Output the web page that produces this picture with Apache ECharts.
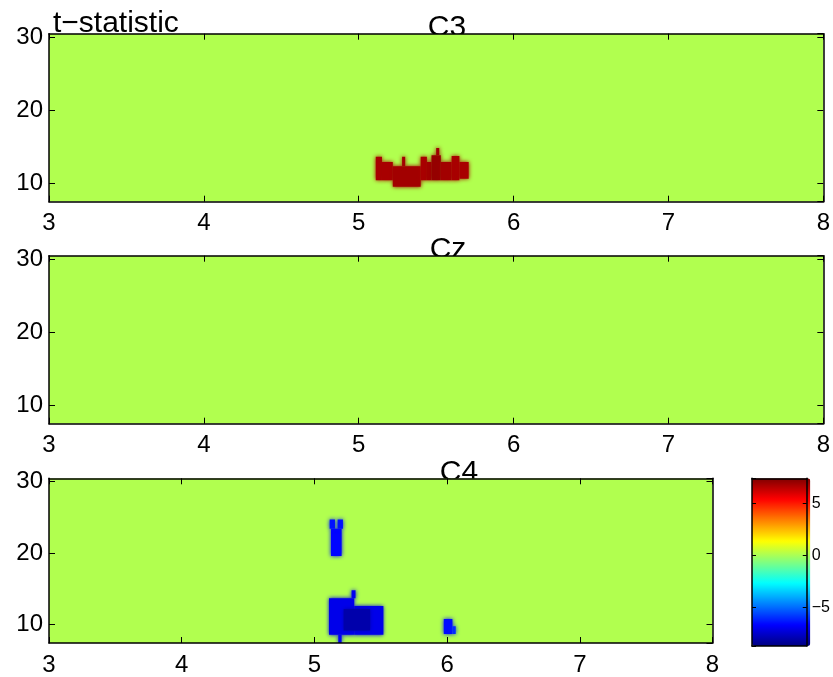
<!DOCTYPE html>
<html>
<head>
<meta charset="utf-8">
<script src="https://cdn.jsdelivr.net/npm/echarts@6/dist/echarts.min.js"></script>
<style>
html, body { margin: 0; padding: 0; background: #fff; }
#chart { width: 833px; height: 677px; }
</style>
</head>
<body>
<div id="chart"></div>
<script>
var FONT = 'Liberation Sans, Arial, Helvetica, sans-serif';

// axes ranges
var timeRange = [3, 8];
var freqRange = [7.45, 30.45];
var tRange = [-8.68, 7.44];
var baseT = 0.15;            // non-significant t value (the green)
var channels = ['C3', 'Cz', 'C4'];

// significant clusters, one rect per cell run: [tStart, tEnd, fLow, fHigh, t]
var c3Cells = [
    [5.11, 5.15, 10.4, 13.6, 6.8],
    [5.15, 5.22, 10.4, 12.9, 6.8],
    [5.22, 5.40, 9.5, 12.3, 6.9],
    [5.28, 5.30, 12.3, 13.6, 6.9],
    [5.40, 5.44, 10.4, 13.6, 6.8],
    [5.44, 5.47, 10.4, 12.9, 6.9],
    [5.47, 5.53, 10.4, 13.8, 7.1],
    [5.50, 5.52, 13.8, 14.8, 7.0],
    [5.53, 5.60, 10.4, 12.9, 6.9],
    [5.60, 5.65, 10.4, 13.7, 6.8],
    [5.65, 5.71, 10.6, 12.9, 6.8]
];
var czCells = [];
var c4Cells = [
    [5.125, 5.205, 19.6, 23.4, -6.6],
    [5.115, 5.155, 23.4, 24.7, -6.4],
    [5.175, 5.215, 23.4, 24.7, -6.4],
    [5.11, 5.30, 8.6, 13.7, -7.0],
    [5.28, 5.31, 13.7, 14.8, -6.9],
    [5.30, 5.52, 8.6, 12.6, -7.0],
    [5.18, 5.205, 7.45, 8.6, -6.8],
    [5.22, 5.42, 9.2, 12.2, -8.0],
    [5.975, 6.04, 8.7, 10.8, -6.5],
    [6.04, 6.065, 8.7, 9.8, -6.0]
];

var jet = ['#000080', '#0000ff', '#0080ff', '#00ffff', '#80ff80',
           '#ffff00', '#ff8000', '#ff0000', '#800000'];

var panelCells = [c3Cells, czCells, c4Cells];
var grids = [
    { left: 49, top: 33.7, width: 776, height: 168 },
    { left: 49, top: 255.7, width: 776, height: 168 },
    { left: 49, top: 478.3, width: 663.5, height: 168 },
    { left: 752, top: 478.3, width: 58.3, height: 167.7 }
];

function minusFmt(v) {
    return v < 0 ? '\u2212' + (-v) : String(v);
}

function frameAxis(gi, pos, opts) {
    var isX = pos === 'top' || pos === 'bottom';
    var showLabel = pos === 'bottom' || pos === 'left';
    return Object.assign({
        gridIndex: gi,
        type: 'value',
        position: pos,
        z: 5,
        axisLine: { show: true, onZero: false, lineStyle: { color: '#000', width: 1.5 } },
        axisTick: { show: true, inside: true, length: 6, lineStyle: { color: '#000', width: 1 } },
        axisLabel: {
            show: showLabel, color: '#000', fontSize: 24, fontFamily: FONT,
            margin: isX ? 10 : 6,
            showMinLabel: isX, showMaxLabel: isX,
            formatter: function (v) { return isX || v % 10 === 0 ? v : ''; }
        },
        splitLine: { show: false }
    }, opts);
}

var xAxes = [], yAxes = [];
for (var i = 0; i < 3; i++) {
    xAxes.push(frameAxis(i, 'bottom', { min: timeRange[0], max: timeRange[1], interval: 1 }));
    xAxes.push(frameAxis(i, 'top', { min: timeRange[0], max: timeRange[1], interval: 1 }));
    yAxes.push(frameAxis(i, 'left', { min: freqRange[0], max: freqRange[1], splitNumber: 3 }));
    yAxes.push(frameAxis(i, 'right', { min: freqRange[0], max: freqRange[1], splitNumber: 3 }));
}
// colorbar frame
xAxes.push(frameAxis(3, 'bottom', { min: 0, max: 1, axisTick: { show: false }, axisLabel: { show: false } }));
xAxes.push(frameAxis(3, 'top', { min: 0, max: 1, axisTick: { show: false }, axisLabel: { show: false } }));
yAxes.push(frameAxis(3, 'left', { min: tRange[0], max: tRange[1], splitNumber: 3,
    axisTick: { show: true, inside: true, length: 4, lineStyle: { color: '#000' } }, axisLabel: { show: false } }));
yAxes.push(frameAxis(3, 'right', { min: tRange[0], max: tRange[1], splitNumber: 3,
    axisTick: { show: true, inside: true, length: 4, lineStyle: { color: '#000' } },
    axisLabel: { show: true, color: '#000', fontSize: 16, fontFamily: FONT, margin: 5,
        showMinLabel: false, showMaxLabel: false,
        formatter: function (v) { return v % 5 === 0 ? minusFmt(v) : ''; } } }));

function renderCell(params, api) {
    var p0 = api.coord([api.value(0), api.value(3)]);
    var p1 = api.coord([api.value(1), api.value(2)]);
    var color = api.visual('color');
    var soft = params.dataIndex > 0;   // interpolated shading look on clusters
    return {
        type: 'rect',
        shape: { x: p0[0], y: p0[1], width: p1[0] - p0[0], height: p1[1] - p0[1] },
        style: {
            fill: color,
            shadowBlur: soft ? 4 : 0,
            shadowColor: soft ? color : 'transparent'
        }
    };
}

var series = panelCells.map(function (cells, i) {
    var data = [[timeRange[0], timeRange[1], freqRange[0], freqRange[1], baseT]].concat(cells);
    return {
        type: 'custom',
        xAxisIndex: 2 * i,
        yAxisIndex: 2 * i,
        renderItem: renderCell,
        clip: true,
        z: 1,
        encode: { x: [0, 1], y: [2, 3] },
        data: data,
        silent: true
    };
});

var titleY = [28, 250, 472.6];
var titleX = [447, 448, 459];
var graphics = [{
    type: 'text', left: 53, top: 8.5,
    style: { text: 't\u2212statistic', fontSize: 30, fontFamily: FONT, fill: '#000' }
}];
channels.forEach(function (name, i) {
    graphics.push({
        type: 'text', x: titleX[i], y: titleY[i],
        style: { text: name, fontSize: 30, fontFamily: FONT, fill: '#000',
            align: 'center', verticalAlign: 'middle' }
    });
});

var chart = echarts.init(document.getElementById('chart'));
var option = {
    animation: false,
    backgroundColor: '#fff',
    grid: grids,
    xAxis: xAxes,
    yAxis: yAxes,
    visualMap: {
        type: 'continuous',
        min: tRange[0],
        max: tRange[1],
        dimension: 4,
        seriesIndex: [0, 1, 2],
        calculable: false,
        hoverLink: false,
        text: null,
        showLabel: false,
        padding: 0,
        left: 752,
        top: 478.3,
        itemWidth: 58.3,
        itemHeight: 167.7,
        inRange: { color: jet }
    },
    series: series,
    graphic: graphics
};
chart.setOption(option);
</script>
</body>
</html>
